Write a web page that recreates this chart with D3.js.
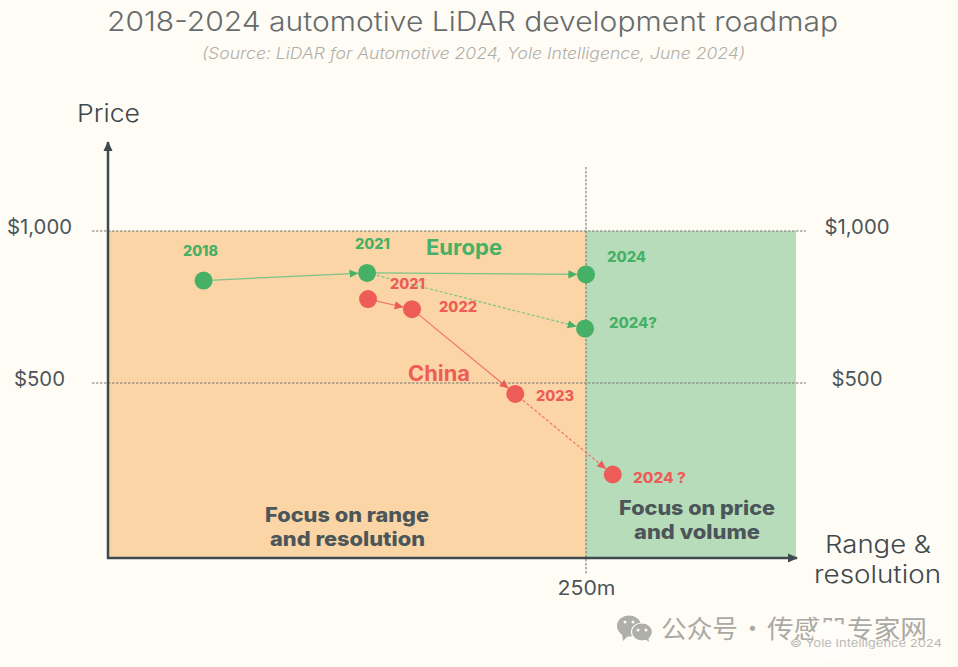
<!DOCTYPE html>
<html>
<head>
<meta charset="utf-8">
<script src="https://cdn.jsdelivr.net/npm/d3@7"></script>
<style>
  html, body { margin: 0; padding: 0; background: #fffcf6; }
  svg { display: block; }
  text { font-family: Inter, "Noto Sans", sans-serif; }
</style>
</head>
<body>
<div id="chart"></div>
<script>
// values (range in metres, price in $)
var europeYears = ["2018", "2021", "2024", "2024?"];
var europeRange = [50, 135.5, 250, 249.5];
var europePrice = [837, 862, 857, 679];
var europeLinks = [[0, 1, false], [1, 2, false], [1, 3, true]];

var chinaYears = ["2021", "2022", "2023", "2024 ?"];
var chinaRange = [136, 159, 213, 264];
var chinaPrice = [776, 743, 464, 199];
var chinaLinks = [[0, 1, false], [1, 2, false], [2, 3, true]];

var priceTicks = [1000, 500];
var rangeTicks = [250];

var ink = "#4c5559", axisInk = "#3f4a4f", green = "#45b066", red = "#ee5c58";
var width = 958, height = 667;

var svg = d3.select("#chart").append("svg")
	.attr("width", width)
	.attr("height", height);

// 250m sits at 586, $1,000 at 231 and $500 at 383
var x = d3.scaleLinear().domain([0, 250]).range([108, 586]);
var y = d3.scaleLinear().domain([500, 1000]).range([383, 231]);
var yBottom = 558, xRight = 796;

function label(px, py, str, size, weight, color, w, extra) {
	var t = svg.append("text")
		.attr("x", px).attr("y", py)
		.attr("font-size", size)
		.attr("font-weight", weight)
		.attr("fill", color)
		.text(str);
	if (w) t.attr("textLength", w).attr("lengthAdjust", "spacingAndGlyphs");
	if (extra) extra(t);
	return t;
}

// arrow heads
function marker(id, color, size) {
	svg.append("defs").append("marker")
		.attr("id", id)
		.attr("viewBox", "0 0 10 10")
		.attr("refX", 9).attr("refY", 5)
		.attr("markerUnits", "userSpaceOnUse")
		.attr("markerWidth", size).attr("markerHeight", size)
		.attr("orient", "auto")
		.append("path")
		.attr("d", "M0,0.5L10,5L0,9.5Z")
		.attr("fill", color);
}
marker("arrowGreen", green, 9);
marker("arrowRed", red, 9);
marker("arrowAxis", axisInk, 10);

// background zones
svg.append("rect")
	.attr("x", x(0)).attr("y", y(1000))
	.attr("width", x(250) - x(0)).attr("height", yBottom - y(1000))
	.attr("fill", "#fbd5a5");
svg.append("rect")
	.attr("x", x(250)).attr("y", y(1000))
	.attr("width", xRight - x(250)).attr("height", yBottom - y(1000))
	.attr("fill", "#b7dcba");

// dotted guides
svg.selectAll(".guide").data(priceTicks).enter().append("line")
	.attr("class", "guide")
	.attr("x1", 92).attr("x2", 806)
	.attr("y1", function(d) { return y(d); })
	.attr("y2", function(d) { return y(d); })
	.attr("stroke", "#77776f")
	.attr("stroke-width", 1.1)
	.attr("stroke-dasharray", "2.5,1.5");
svg.append("line")
	.attr("x1", x(250)).attr("x2", x(250))
	.attr("y1", 167).attr("y2", 575)
	.attr("stroke", "#77776f")
	.attr("stroke-width", 1.1)
	.attr("stroke-dasharray", "2.5,1.5");

// tick labels, left and right
function priceAxis(centre) {
	var g = svg.append("g").call(d3.axisLeft(y)
		.tickValues(priceTicks)
		.tickFormat(d3.format("$,"))
		.tickSize(0));
	g.select(".domain").remove();
	g.selectAll("text")
		.attr("x", centre).attr("dy", "0.1em")
		.attr("text-anchor", "middle")
		.attr("font-size", 20)
		.attr("font-family", "Inter, sans-serif")
		.attr("fill", ink)
		.attr("textLength", function(d) { return d === 1000 ? 65 : 51; })
		.attr("lengthAdjust", "spacingAndGlyphs");
}
priceAxis(39.5);
priceAxis(857);

var xAxis = svg.append("g")
	.attr("transform", "translate(0," + yBottom + ")")
	.call(d3.axisBottom(x)
		.tickValues(rangeTicks)
		.tickFormat(function(d) { return d + "m"; })
		.tickSize(0));
xAxis.select(".domain").remove();
xAxis.selectAll("text")
	.attr("y", 37).attr("dy", 0)
	.attr("font-size", 20)
	.attr("font-family", "Inter, sans-serif")
	.attr("fill", ink)
	.attr("textLength", 58)
	.attr("lengthAdjust", "spacingAndGlyphs");

// main axes
svg.append("line")
	.attr("x1", x(0)).attr("x2", x(0))
	.attr("y1", yBottom + 1).attr("y2", 142)
	.attr("stroke", axisInk).attr("stroke-width", 2.5)
	.attr("marker-end", "url(#arrowAxis)");
svg.append("line")
	.attr("x1", x(0) - 1).attr("x2", xRight + 1)
	.attr("y1", yBottom).attr("y2", yBottom)
	.attr("stroke", axisInk).attr("stroke-width", 2.5)
	.attr("marker-end", "url(#arrowAxis)");

// one series: links first, then dots on top
function drawSeries(range, price, links, color, lineColor, arrowId) {
	svg.selectAll(".link-" + arrowId).data(links).enter().append("line")
		.attr("class", "link-" + arrowId)
		.attr("x1", function(d) { return x(range[d[0]]); })
		.attr("y1", function(d) { return y(price[d[0]]); })
		.attr("x2", function(d) { return trimEnd(d, range, price).x; })
		.attr("y2", function(d) { return trimEnd(d, range, price).y; })
		.attr("stroke", lineColor)
		.attr("stroke-width", 1.2)
		.attr("stroke-dasharray", function(d) { return d[2] ? "3,2" : null; })
		.attr("marker-end", "url(#" + arrowId + ")");
	svg.selectAll(".dot-" + arrowId).data(range).enter().append("circle")
		.attr("class", "dot-" + arrowId)
		.attr("cx", function(d) { return x(d); })
		.attr("cy", function(d, i) { return y(price[i]); })
		.attr("r", 9)
		.attr("fill", color);
}

// stop the line at the edge of the target dot
function trimEnd(d, range, price) {
	var x1 = x(range[d[0]]), y1 = y(price[d[0]]), x2 = x(range[d[1]]), y2 = y(price[d[1]]);
	var len = Math.sqrt((x2 - x1) * (x2 - x1) + (y2 - y1) * (y2 - y1));
	return { x: x2 - (x2 - x1) / len * 9.5, y: y2 - (y2 - y1) / len * 9.5 };
}

drawSeries(europeRange, europePrice, europeLinks, green, "#78c48a", "arrowGreen");
drawSeries(chinaRange, chinaPrice, chinaLinks, red, "#f2736c", "arrowRed");

// point labels
label(183, 256, europeYears[0], 14, 800, green, 35);
label(355, 249, europeYears[1], 14, 800, green, 35);
label(607, 262, europeYears[2], 14, 800, green, 39);
label(609, 328, europeYears[3], 14, 800, green, 48);
label(390, 289, chinaYears[0], 14, 800, red, 35);
label(439, 312, chinaYears[1], 14, 800, red, 38);
label(536, 401, chinaYears[2], 14, 800, red, 38);
label(633, 483, chinaYears[3], 14, 800, red, 53);

label(426, 255, "Europe", 21, 700, green, 76);
label(408, 381, "China", 21, 700, red, 62);

// zone captions
label(265, 522, "Focus on range", 20, 800, ink, 164);
label(270, 546, "and resolution", 20, 800, ink, 155);
label(619, 515, "Focus on price", 20, 800, ink, 156);
label(634, 539, "and volume", 20, 800, ink, 126);

// titles
label(107, 31, "2018-2024 automotive LiDAR development roadmap", 27, 300, "#666b6c", 731);
label(202, 59, "(Source: LiDAR for Automotive 2024, Yole Intelligence, June 2024)", 16, 300, "#b0b0aa", 543,
	function(t) { t.attr("font-style", "italic"); });
label(77, 122, "Price", 24, 300, "#3f484c", 63);
label(825, 553, "Range &", 24, 300, "#3f484c", 106);
label(814, 583, "resolution", 24, 300, "#3f484c", 127);

// watermark
var wm = "#aeaeaa";
var icon = svg.append("g").attr("fill", wm);
icon.append("ellipse").attr("cx", 629).attr("cy", 626).attr("rx", 12).attr("ry", 10.5);
icon.append("path").attr("d", "M622,634L623,641L629,635Z");
icon.append("ellipse").attr("cx", 642).attr("cy", 632).attr("rx", 10.5).attr("ry", 9).attr("stroke", "#fffcf6").attr("stroke-width", 1.2);
icon.append("path").attr("d", "M645,639L649,642L648,636Z");
[[625, 622], [633, 622], [638, 630], [646, 630]].forEach(function(p) {
	icon.append("circle").attr("cx", p[0]).attr("cy", p[1]).attr("r", 1.5).attr("fill", "#fffcf6");
});
function cjk(t) { t.style("font-family", "'Noto Sans CJK SC'"); }
label(661, 638, "公众号", 25, 400, "#a9a9a5", 77, cjk);
label(740, 638, "·", 25, 400, "#a9a9a5", null, cjk);
label(767, 638, "传感器专家网", 25, 400, "#a9a9a5", 160, cjk);
svg.append("circle").attr("cx", 832).attr("cy", 640).attr("r", 19).attr("fill", "#fffefb");
label(790, 647, "© Yole Intelligence 2024", 11, 400, "#b9b9b5", 152);
</script>
</body>
</html>
